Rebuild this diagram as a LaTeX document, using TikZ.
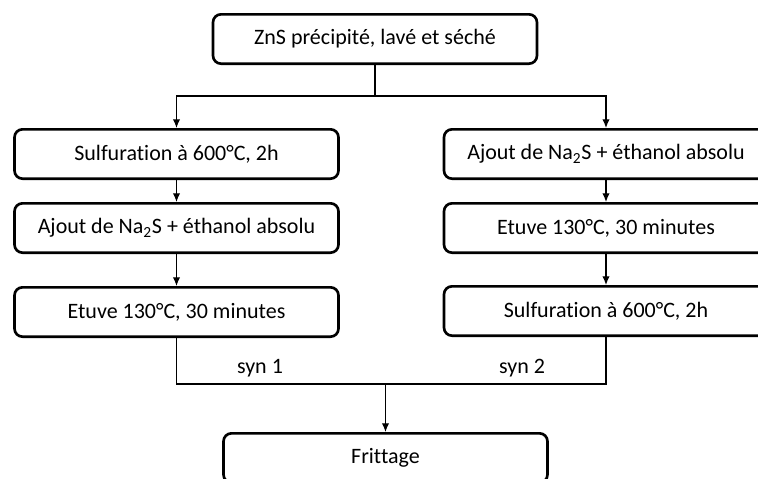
\documentclass[tikz,border=0pt]{standalone}
\usepackage{fontspec}
\setmainfont[Ligatures=NoCommon]{Carlito}
\usetikzlibrary{arrows.meta,calc,positioning}

\begin{document}
\begin{tikzpicture}[x=0.75pt,y=-0.75pt,
  etape/.style={draw,line width=2pt,rounded corners=6pt,minimum width=243pt,
    minimum height=37pt,inner sep=0pt,font=\fontsize{16.5}{19}\selectfont},
  fleche/.style={-{Latex[length=6.5pt,width=5.5pt]},line width=0.9pt}]
\clip (0,0) rectangle (758,479);
% Produit de depart
\node[etape] (zns) at (375,39) {ZnS précipité, lavé et séché};
% Voie syn 1 (gauche)
\foreach \yi/\nom/\lab in {154/g1/{Sulfuration à 600°C, 2h},
    228/g2/{Ajout de Na\textsubscript{2}S + éthanol absolu},
    312/g3/{Etuve 130°C, 30 minutes}}{
  \node[etape] (\nom) at (176.5,\yi) {\lab};
}
% Voie syn 2 (droite)
\foreach \yi/\nom/\lab in {154/d1/{Ajout de Na\textsubscript{2}S + éthanol absolu},
    228/d2/{Etuve 130°C, 30 minutes},
    311/d3/{Sulfuration à 600°C, 2h}}{
  \node[etape] (\nom) at (606,\yi) {\lab};
}
% Etape finale
\node[etape] (frit) at (385.5,458) {Frittage};
% Separation en deux voies
\coordinate (split) at (375,96);
\draw[line width=0.9pt] (zns.south) -- (split);
\draw[fleche] (split) -| (g1.north);
\draw[fleche] (split) -| (d1.north);
\draw[fleche] (g1) -- (g2);
\draw[fleche] (g2) -- (g3);
\draw[fleche] (d1) -- (d2);
\draw[fleche] (d2) -- (d3);
% Reunion des deux voies
\coordinate (merge) at (385.5,384);
\draw[line width=0.9pt] (g3.south) |- (merge) -| (d3.south);
\draw[fleche] (merge) -- (frit.north);
\node[font=\fontsize{16.5}{19}\selectfont] (syn1) at (260,368) {syn 1};
\node[font=\fontsize{16.5}{19}\selectfont] (syn2) at (522,368) {syn 2};
\end{tikzpicture}
\end{document}
